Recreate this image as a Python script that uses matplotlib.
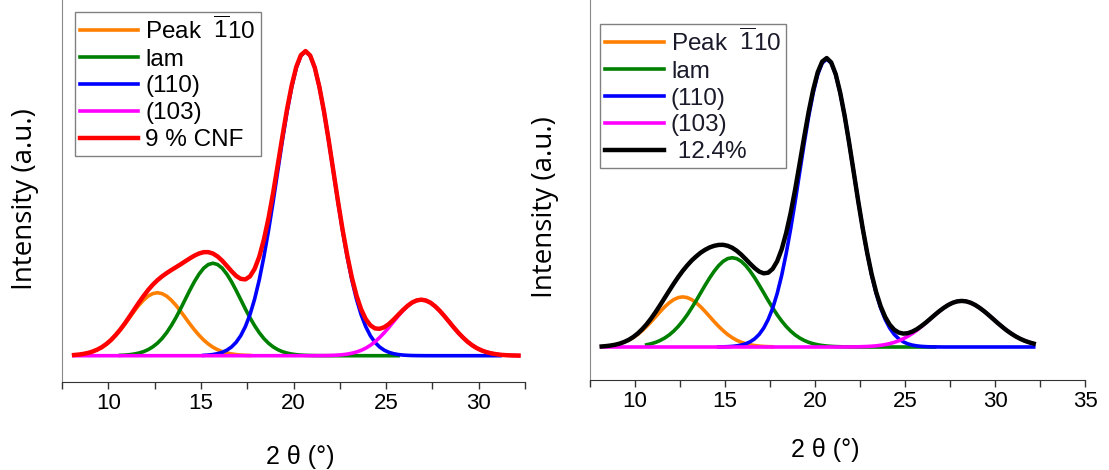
import matplotlib
matplotlib.use("Agg")
import matplotlib.pyplot as plt
from matplotlib.ticker import MultipleLocator, NullLocator

plt.rcParams['font.family'] = ['Liberation Sans', 'DejaVu Sans']
plt.rcParams['mathtext.fontset'] = 'custom'
plt.rcParams['mathtext.rm'] = 'Liberation Sans'

# 2 theta sampling (deg)
two_theta = [8.15, 8.40, 8.65, 8.90, 9.15, 9.40, 9.65, 9.90, 10.15, 10.40,
             10.65, 10.90, 11.15, 11.40, 11.65, 11.90, 12.15, 12.40, 12.65, 12.90,
             13.15, 13.40, 13.65, 13.90, 14.15, 14.40, 14.65, 14.90, 15.15, 15.40,
             15.65, 15.90, 16.15, 16.40, 16.65, 16.90, 17.15, 17.40, 17.65, 17.90,
             18.15, 18.40, 18.65, 18.90, 19.15, 19.40, 19.65, 19.90, 20.15, 20.40,
             20.65, 20.90, 21.15, 21.40, 21.65, 21.90, 22.15, 22.40, 22.65, 22.90,
             23.15, 23.40, 23.65, 23.90, 24.15, 24.40, 24.65, 24.90, 25.15, 25.40,
             25.65, 25.90, 26.15, 26.40, 26.65, 26.90, 27.15, 27.40, 27.65, 27.90,
             28.15, 28.40, 28.65, 28.90, 29.15, 29.40, 29.65, 29.90, 30.15, 30.40,
             30.65, 30.90, 31.15, 31.40, 31.65, 31.90, 32.15]

# ---- left panel: 9 % CNF ----
cnf9_total = [0.23, 0.37, 0.59, 0.91, 1.36, 1.99, 2.80, 3.87, 5.19, 6.80,
              8.63, 10.67, 12.90, 15.18, 17.45, 19.59, 21.58, 23.32, 24.80, 26.06,
              27.15, 28.14, 29.07, 30.01, 31.01, 31.98, 32.89, 33.60, 34.03, 34.04,
              33.58, 32.62, 31.23, 29.53, 27.80, 26.25, 25.25, 25.08, 26.07, 28.53,
              32.49, 38.16, 45.20, 53.51, 62.70, 72.03, 80.97, 88.75, 94.94, 98.80,
              100.12, 98.67, 94.65, 88.24, 80.15, 70.77, 60.82, 50.80, 41.43, 33.03,
              25.71, 19.81, 15.26, 12.04, 9.99, 8.97, 8.84, 9.37, 10.42, 11.84,
              13.40, 14.96, 16.35, 17.47, 18.17, 18.42, 18.14, 17.41, 16.23, 14.74,
              13.01, 11.17, 9.31, 7.56, 5.98, 4.58, 3.42, 2.48, 1.76, 1.21,
              0.81, 0.53, 0.33, 0.20, 0.12, 0.07, 0.04]
# 9.65 .. 17.65
cnf9_peak110 = [2.79, 3.85, 5.15, 6.73, 8.51, 10.47, 12.56, 14.63, 16.58, 18.26,
                19.58, 20.41, 20.7, 20.41, 19.58, 18.26, 16.58, 14.63, 12.56, 10.47,
                8.51, 6.73, 5.15, 3.85, 2.79, 1.98, 1.36, 0.91, 0.59, 0.37,
                0.23, 0.14, 0.08]
# 10.65 .. 25.65
cnf9_lam = [0.12, 0.20, 0.34, 0.55, 0.87, 1.33, 2.00, 2.91, 4.10, 5.65,
            7.57, 9.88, 12.49, 15.38, 18.45, 21.49, 24.35, 26.81, 28.76, 29.97,
            30.4, 29.97, 28.76, 26.81, 24.35, 21.49, 18.45, 15.38, 12.49, 9.88,
            7.57, 5.65, 4.10, 2.91, 2.00, 1.33, 0.87, 0.55, 0.34, 0.20,
            0.12, 0.07, 0.04, 0.02, 0.01] + [0.0] * 16
# 15.15 .. 31.15
cnf9_110 = [0.12, 0.22, 0.39, 0.67, 1.11, 1.81, 2.86, 4.39, 6.57, 9.56,
            13.5, 18.6, 24.9, 32.5, 41.1, 50.6, 60.7, 70.7, 80.1, 88.2,
            94.6, 98.6, 100.0, 98.6, 94.6, 88.2, 80.1, 70.7, 60.7, 50.6,
            41.1, 32.5, 24.9, 18.6, 13.5, 9.56, 6.57, 4.39, 2.86, 1.81,
            1.11, 0.67, 0.39, 0.22, 0.12, 0.06, 0.03, 0.02] + [0.0] * 17
# full range (nonzero from 21.15)
cnf9_103 = [0.0] * 52 + [0.01, 0.02, 0.04, 0.07, 0.12, 0.20, 0.33, 0.53, 0.81, 1.21,
                         1.76, 2.48, 3.42, 4.58, 5.98, 7.56, 9.31, 11.17, 13.01, 14.74,
                         16.23, 17.41, 18.14, 18.4, 18.14, 17.41, 16.23, 14.74, 13.01, 11.17,
                         9.31, 7.56, 5.98, 4.58, 3.42, 2.48, 1.76, 1.21, 0.81, 0.53,
                         0.33, 0.20, 0.12, 0.07, 0.04]

# ---- right panel: 12.4 % ----
cnf12_total = [0.19, 0.32, 0.52, 0.79, 1.19, 1.75, 2.49, 3.46, 4.67, 6.18,
               7.93, 9.94, 12.18, 14.58, 17.06, 19.54, 21.98, 24.29, 26.42, 28.32,
               30.04, 31.47, 32.76, 33.78, 34.59, 35.14, 35.45, 35.48, 35.14, 34.46,
               33.43, 32.09, 30.52, 28.89, 27.39, 26.18, 25.58, 25.80, 27.15, 29.80,
               33.94, 39.64, 46.63, 54.79, 63.82, 72.98, 81.72, 89.34, 95.38, 99.12,
               100.34, 98.82, 94.74, 88.30, 80.17, 70.76, 60.76, 50.68, 41.22, 32.68,
               25.17, 19.00, 14.09, 10.40, 7.74, 6.00, 5.02, 4.66, 4.79, 5.33,
               6.15, 7.23, 8.44, 9.77, 11.12, 12.42, 13.58, 14.59, 15.36, 15.84,
               16.00, 15.84, 15.36, 14.59, 13.58, 12.40, 11.09, 9.71, 8.32, 7.01,
               5.76, 4.66, 3.68, 2.85, 2.16, 1.61, 1.17]
# 9.65 .. 17.65
cnf12_peak110 = [2.35, 3.24, 4.33, 5.66, 7.15, 8.80, 10.56, 12.30, 13.94, 15.35,
                 16.46, 17.16, 17.4, 17.16, 16.46, 15.35, 13.94, 12.30, 10.56, 8.80,
                 7.15, 5.66, 4.33, 3.24, 2.35, 1.66, 1.14, 0.76, 0.50, 0.31,
                 0.19, 0.12, 0.07]
# 10.65 .. 26.65
cnf12_lam = [0.78, 1.14, 1.62, 2.28, 3.12, 4.19, 5.52, 7.13, 9.02, 11.16,
             13.58, 16.12, 18.82, 21.48, 24.03, 26.32, 28.27, 29.76, 30.69, 31.0,
             30.69, 29.76, 28.27, 26.32, 24.03, 21.48, 18.82, 16.12, 13.58, 11.16,
             9.02, 7.13, 5.52, 4.19, 3.12, 2.28, 1.62, 1.14, 0.78, 0.52,
             0.34, 0.22, 0.14, 0.09, 0.05, 0.03, 0.02, 0.01] + [0.0] * 17
# 14.65 .. 32.15
cnf12_110 = [0.03, 0.06, 0.12, 0.22, 0.39, 0.67, 1.11, 1.81, 2.86, 4.39,
             6.57, 9.56, 13.5, 18.6, 24.9, 32.5, 41.1, 50.6, 60.7, 70.7,
             80.1, 88.2, 94.6, 98.6, 100.0, 98.6, 94.6, 88.2, 80.1, 70.7,
             60.7, 50.6, 41.1, 32.5, 24.9, 18.6, 13.5, 9.56, 6.57, 4.39,
             2.86, 1.81, 1.11, 0.67, 0.39, 0.22, 0.12, 0.06, 0.03, 0.02] + [0.0] * 21
# full range (nonzero from 21.40)
cnf12_103 = [0.0] * 53 + [0.01, 0.02, 0.03, 0.04, 0.07, 0.12, 0.18, 0.27, 0.40, 0.59,
                          0.84, 1.17, 1.61, 2.16, 2.85, 3.68, 4.66, 5.76, 7.01, 8.32,
                          9.71, 11.09, 12.40, 13.58, 14.59, 15.36, 15.84, 16.00, 15.84, 15.36,
                          14.59, 13.58, 12.40, 11.09, 9.71, 8.32, 7.01, 5.76, 4.66, 3.68,
                          2.85, 2.16, 1.61, 1.17]

labels = [r'Peak  $\overline{\mathrm{1}}$10', 'lam', '(110)', '(103)']
colors = ['#ff8000', '#008000', '#0000ff', '#ff00ff']

fig = plt.figure(figsize=(11.09, 4.70), dpi=100)


def panel(rect, xmax, comps, starts, total, total_label, total_color, ylim,
          leg_anchor, ylab_pos, xlab_pos, text_color):
    ax = fig.add_axes(rect)
    for vals, s, lab, c in zip(comps, starts, labels, colors):
        ax.plot(two_theta[s:s + len(vals)], vals, color=c, lw=2.6, label=lab)
    ax.plot(two_theta, total, color=total_color, lw=3.2, label=total_label)
    ax.set_xlim(7.5, xmax)
    ax.set_ylim(*ylim)
    ax.xaxis.set_major_locator(MultipleLocator(5))
    ax.xaxis.set_minor_locator(MultipleLocator(2.5))
    ax.yaxis.set_major_locator(NullLocator())
    ax.tick_params(axis='x', which='both', direction='out', length=5, width=1,
                   color='#333333', labelsize=16, pad=3)
    ax.spines['top'].set_visible(False)
    ax.spines['right'].set_visible(False)
    ax.spines['left'].set_color('#8a8a8a')
    ax.spines['bottom'].set_color('#333333')
    ax.set_xlabel('2 θ (°)', fontsize=18)
    ax.xaxis.set_label_coords(*xlab_pos)
    ax.set_ylabel('Intensity (a.u.)', fontsize=20, family=['Open Sans', 'DejaVu Sans'])
    ax.yaxis.set_label_coords(*ylab_pos)
    leg = ax.legend(loc='upper left', bbox_to_anchor=leg_anchor, borderaxespad=0,
                    fontsize=17.5, handlelength=2.4, handletextpad=0.3,
                    labelspacing=0.2, borderpad=0.2, fancybox=False,
                    edgecolor='#808080', framealpha=1)
    leg.get_frame().set_linewidth(1)
    for t in leg.get_texts():
        t.set_color(text_color)
    return ax


panel([62 / 1109, 88 / 470, 463 / 1109, 382 / 470], 32.5,
      [cnf9_peak110, cnf9_lam, cnf9_110, cnf9_103], [6, 10, 28, 0],
      cnf9_total, '9 % CNF', '#ff0000', (-8.64, 116.9),
      (0.028, 0.969), (-0.05, 0.479), (0.514, -0.165), 'black')

panel([590 / 1109, 90 / 470, 495 / 1109, 380 / 470], 35,
      [cnf12_peak110, cnf12_lam, cnf12_110, cnf12_103], [6, 10, 26, 0],
      cnf12_total, ' 12.4%', '#000000', (-11.46, 120.5),
      (0.021, 0.937), (-0.062, 0.455), (0.475, -0.153), '#1a1a2a')

fig.savefig('out.png', dpi=100)
